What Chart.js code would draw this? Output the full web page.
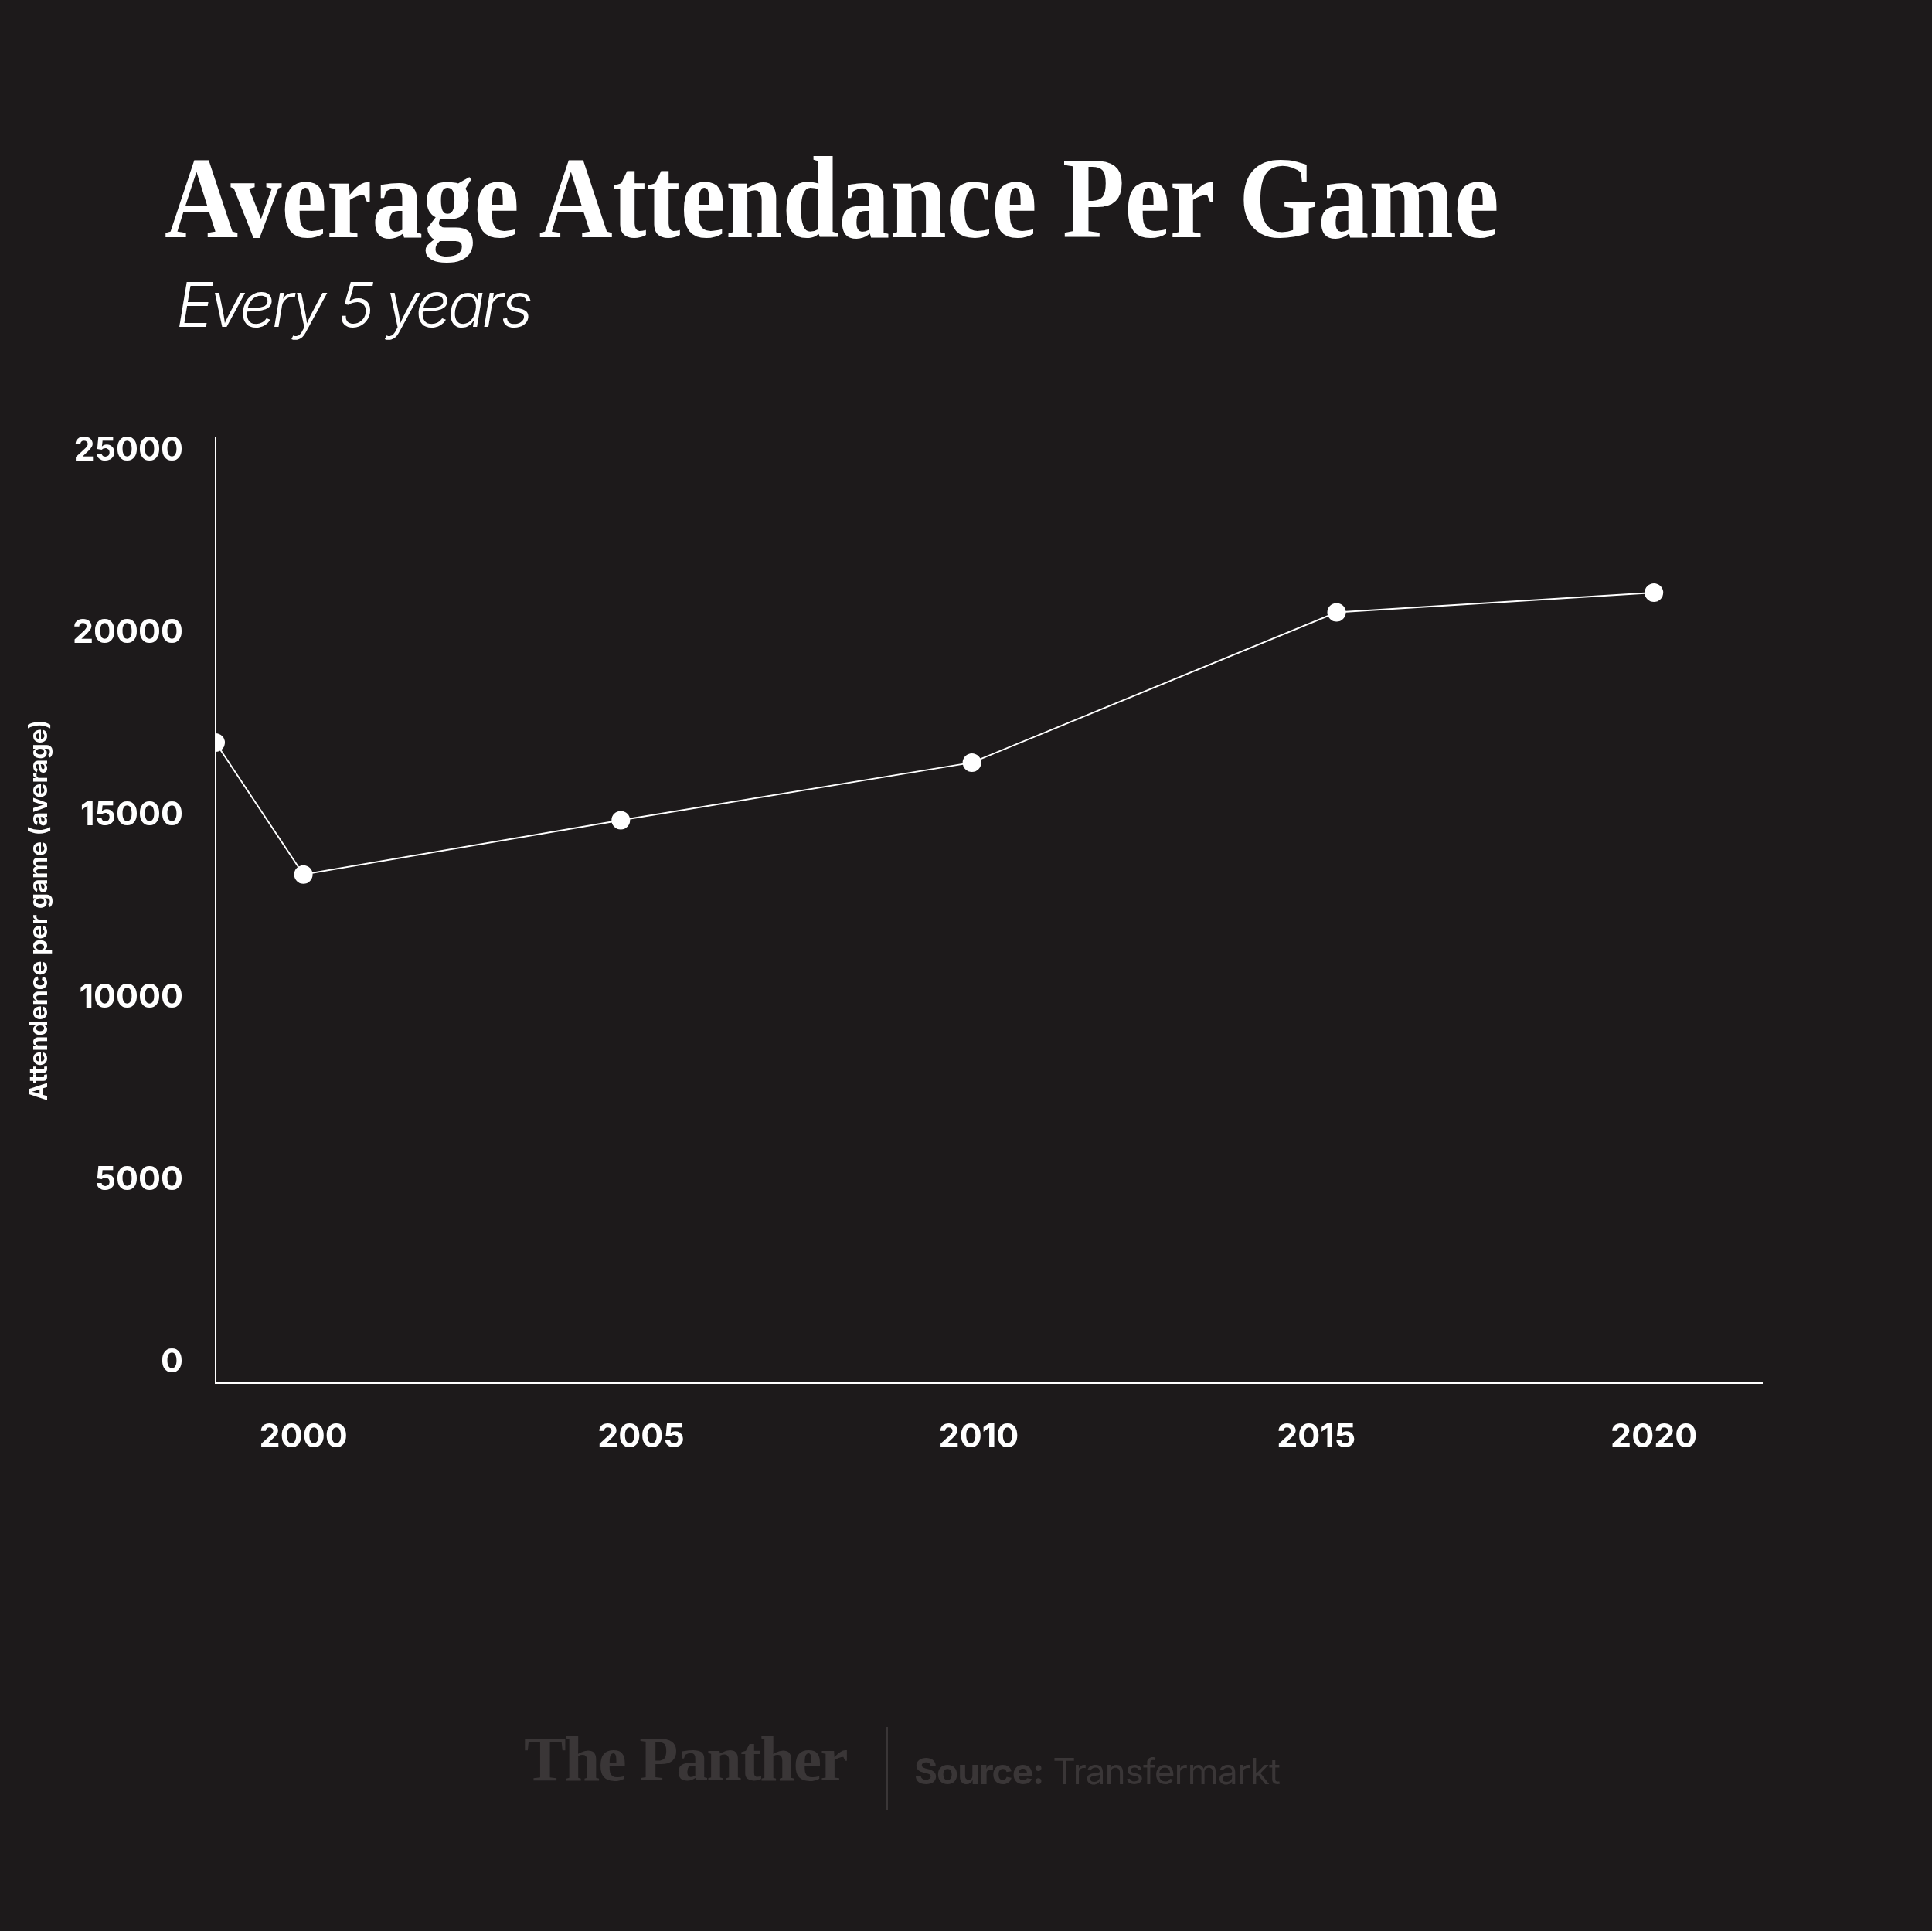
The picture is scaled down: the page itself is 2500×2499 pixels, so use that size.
<!DOCTYPE html>
<html>
<head>
<meta charset="utf-8">
<script src="https://cdn.jsdelivr.net/npm/chart.js@4"></script>
<style>
  html, body { margin: 0; padding: 0; background: #1d1a1b; }
  #wrap { position: relative; width: 2500px; height: 2499px; overflow: hidden; }
  canvas { position: absolute; left: 0; top: 0; }
  .txt { position: absolute; white-space: nowrap; }
  #title { left: 213px; top: 170px; font: bold 150px "Liberation Serif", serif; color: #fff; transform-origin: 0 0; }
  #sub { left: 228px; top: 345px; font: italic 300 80px Inter, "Open Sans", sans-serif; color: #fff; letter-spacing: -4px; }
  #brand { left: 678px; top: 2230px; font: bold 82px "Liberation Serif", serif; color: #3a3637; letter-spacing: -2px; }
  #divider { position: absolute; left: 1147px; top: 2235px; width: 2px; height: 108px; background: #3a3637; }
  #source { left: 1183px; top: 2264px; font: 46px Inter, sans-serif; color: #3a3637; letter-spacing: -1px; }
</style>
</head>
<body>
<div id="wrap">
  <canvas id="chart" width="2500" height="2499"></canvas>
  <div class="txt" id="title">Average Attendance Per Game</div>
  <div class="txt" id="sub">Every 5 years</div>
  <div class="txt" id="brand">The Panther</div>
  <div id="divider"></div>
  <div class="txt" id="source"><b>Source:</b> Transfermarkt</div>
</div>
<script>
// values
const years = [1998.7, 2000, 2004.7, 2009.9, 2015.3, 2020];
const attendance = [17000, 13380, 14870, 16450, 20570, 21110];
const xTicks = [2000, 2005, 2010, 2015, 2020];
const yTicks = [0, 5000, 10000, 15000, 20000, 25000];

// squeeze the title to the reference width
const title = document.getElementById("title");
title.style.transform = "scaleX(" + (1727 / title.offsetWidth) + ")";

const points = years.map((y, i) => ({ x: y, y: attendance[i] }));

new Chart(document.getElementById("chart").getContext("2d"), {
    type: "line",
    data: {
        datasets: [{
            data: points,
            borderColor: "#ffffff",
            borderWidth: 2,
            pointRadius: 11,
            pointBackgroundColor: "#ffffff",
            pointBorderColor: "#ffffff",
            tension: 0
        }]
    },
    options: {
        responsive: false,
        animation: false,
        layout: { padding: { top: 566, right: 220, left: 32, bottom: 0 } },
        plugins: { legend: { display: false }, tooltip: { enabled: false } },
        scales: {
            x: {
                type: "linear",
                min: 1998.7,
                max: 2021.6,
                afterBuildTicks: s => { s.ticks = xTicks.map(v => ({ value: v })); },
                afterFit: s => { s.height = 709; },
                grid: { display: false, drawTicks: false },
                border: { color: "#ffffff", width: 2 },
                ticks: {
                    color: "#ffffff",
                    padding: 44,
                    font: { family: "Inter, sans-serif", size: 43, weight: "bold" },
                    callback: v => String(v)
                }
            },
            y: {
                min: -574,
                max: 25372,
                afterBuildTicks: s => { s.ticks = yTicks.map(v => ({ value: v })); },
                afterFit: s => { s.width = 247; },
                grid: { display: false, drawTicks: false },
                border: { color: "#ffffff", width: 2 },
                title: {
                    display: true,
                    text: "Attendence per game (average)",
                    color: "#ffffff",
                    padding: 0,
                    font: { family: "Inter, sans-serif", size: 32, weight: "bold" }
                },
                ticks: {
                    color: "#ffffff",
                    padding: 42,
                    font: { family: "Inter, sans-serif", size: 43, weight: "bold" },
                    callback: v => String(v)
                }
            }
        }
    }
});
</script>
</body>
</html>
